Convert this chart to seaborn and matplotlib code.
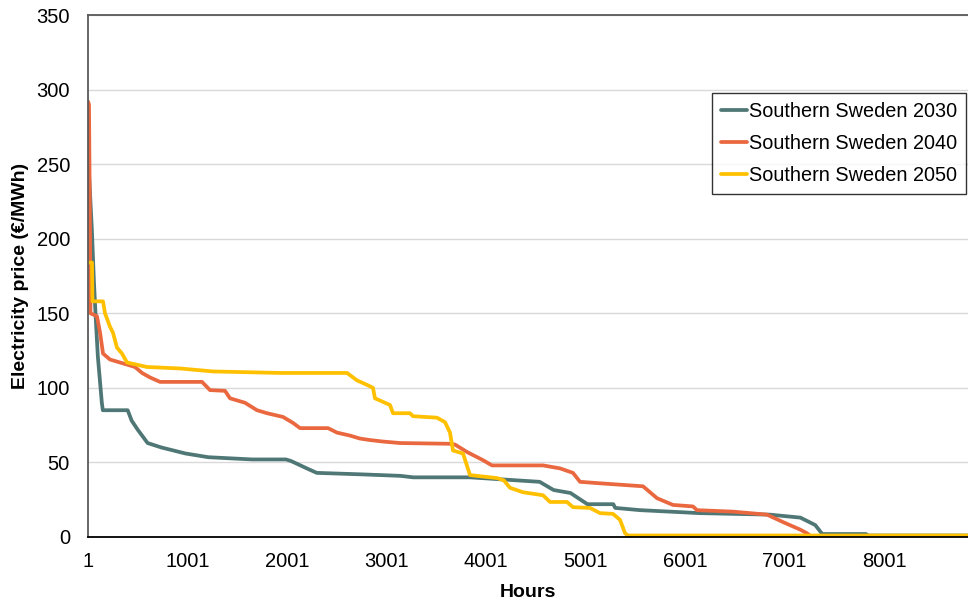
import matplotlib
matplotlib.use("Agg")
import matplotlib.pyplot as plt
import seaborn as sns
import pandas as pd

# Price duration curves: hours of the year sorted by price (breakpoints of each curve)
hours_2030 = [1, 10, 40, 60, 80, 100, 140, 150, 400, 440, 500, 600, 740, 980, 1210,
              1650, 1990, 2040, 2200, 2300, 2750, 3140, 3270, 3840, 4540, 4680, 4850,
              5020, 5280, 5300, 5550, 6150, 6850, 7160, 7310, 7380, 7820, 7840, 8845]
price_2030 = [260, 245, 206, 172, 145, 121, 90, 85, 85, 78, 72, 63, 60, 56, 53.5,
              52, 52, 51, 46, 43, 42, 41, 40, 40, 37, 31.5, 29.5,
              22, 22, 19.5, 18, 16, 15, 13, 8, 2, 2, 1, 1]

hours_2040 = [1, 11, 21, 26, 91, 122, 152, 222, 323, 423, 473, 544, 624, 725, 1147,
              1227, 1378, 1428, 1579, 1700, 1800, 1961, 2061, 2132, 2413, 2503, 2634,
              2735, 2835, 2966, 3137, 3639, 3689, 3810, 3971, 4061, 4574, 4745, 4875,
              4946, 5147, 5579, 5720, 5880, 6081, 6121, 6483, 6825, 6986, 7157, 7227,
              7277, 8845]
price_2040 = [292, 290, 205, 150, 148, 137, 123, 119, 117, 115, 114, 110, 107, 104, 104,
              98.5, 98, 93, 90, 85, 83, 80.5, 76.5, 73, 73, 70, 68,
              66, 65, 64, 63, 62.5, 62, 57, 51.5, 48, 48, 46, 43,
              37, 36, 34, 26, 21.5, 20.5, 18, 17, 15, 10, 5, 2.5,
              0, 0]

hours_2050 = [1, 41, 46, 152, 172, 222, 252, 292, 343, 393, 594, 926, 1257, 1931, 2604,
              2705, 2805, 2865, 2885, 3036, 3066, 3237, 3267, 3508, 3589, 3639, 3669,
              3770, 3840, 4112, 4180, 4242, 4373, 4574, 4644, 4815, 4875, 5046, 5147,
              5277, 5348, 5398, 5428, 8845]
price_2050 = [184, 184, 158, 158, 150, 141, 137, 127, 123, 117, 114, 113, 111, 110, 110,
              105, 102, 100, 93, 88.5, 83, 83, 81, 80, 77, 70, 58,
              56, 41.5, 39.5, 38, 33, 30, 28, 23.5, 23.5, 20, 19.5, 16,
              15.5, 11.5, 2.5, 1, 1]

series_names = ["Southern Sweden 2030", "Southern Sweden 2040", "Southern Sweden 2050"]
series_colors = ["#4E7775", "#EA6840", "#FFC000"]
x_tick_values = [1, 1001, 2001, 3001, 4001, 5001, 6001, 7001, 8001]
y_tick_values = [0, 50, 100, 150, 200, 250, 300, 350]

frames = []
for name, h, p in zip(series_names,
                      [hours_2030, hours_2040, hours_2050],
                      [price_2030, price_2040, price_2050]):
    frames.append(pd.DataFrame({"Hour": h, "Price": p, "Series": name}))
df = pd.concat(frames, ignore_index=True)

sns.set_theme(style="white")
plt.rcParams["font.family"] = ["Liberation Sans", "DejaVu Sans"]
plt.rcParams["text.color"] = "black"
plt.rcParams["axes.labelcolor"] = "black"

fig = plt.figure(figsize=(9.68, 6.03), dpi=100)
ax = fig.add_axes([88 / 968, 1 - 537 / 603, 1 - 88 / 968, (537 - 15) / 603])

sns.lineplot(data=df, x="Hour", y="Price", hue="Series", hue_order=series_names,
             palette=series_colors, estimator=None, sort=False, linewidth=2.7, ax=ax)

ax.set_xlim(1, 8845)
ax.set_ylim(0, 350)
ax.set_xticks(x_tick_values)
ax.set_xticklabels([str(v) for v in x_tick_values], fontsize=14.5, color="black")
ax.set_yticks(y_tick_values)
ax.set_yticklabels([str(v) for v in y_tick_values], fontsize=14.5, color="black")
ax.tick_params(axis="both", length=0)
ax.tick_params(axis="y", pad=13)
ax.tick_params(axis="x", pad=11)

ax.yaxis.grid(True, color="#D9D9D9", linewidth=1)
ax.xaxis.grid(False)
ax.set_axisbelow(True)

for side in ["left", "top"]:
    ax.spines[side].set_color("#595959")
    ax.spines[side].set_linewidth(1.3)
ax.spines["bottom"].set_color("#000000")
ax.spines["bottom"].set_linewidth(1.3)
ax.spines["right"].set_visible(False)

ax.set_xlabel("Hours", fontsize=14, fontweight="bold", labelpad=9, color="black")
ax.set_ylabel("Electricity price (€/MWh)", fontsize=14, fontweight="bold",
              labelpad=5, color="black")

handles, labels = ax.get_legend_handles_labels()
leg = ax.legend(handles, labels, loc="upper left",
                bbox_to_anchor=(712 / 968, 1 - 93 / 603), bbox_transform=fig.transFigure,
                borderaxespad=0, fontsize=14.3, frameon=True, fancybox=False,
                handlelength=1.3, handletextpad=0.1, labelspacing=0.66,
                borderpad=0.45)
leg.get_frame().set_edgecolor("#000000")
leg.get_frame().set_linewidth(1.0)
for text in leg.get_texts():
    text.set_color("black")
for line in leg.get_lines():
    line.set_linewidth(2.7)

fig.savefig("out.png", dpi=100)
